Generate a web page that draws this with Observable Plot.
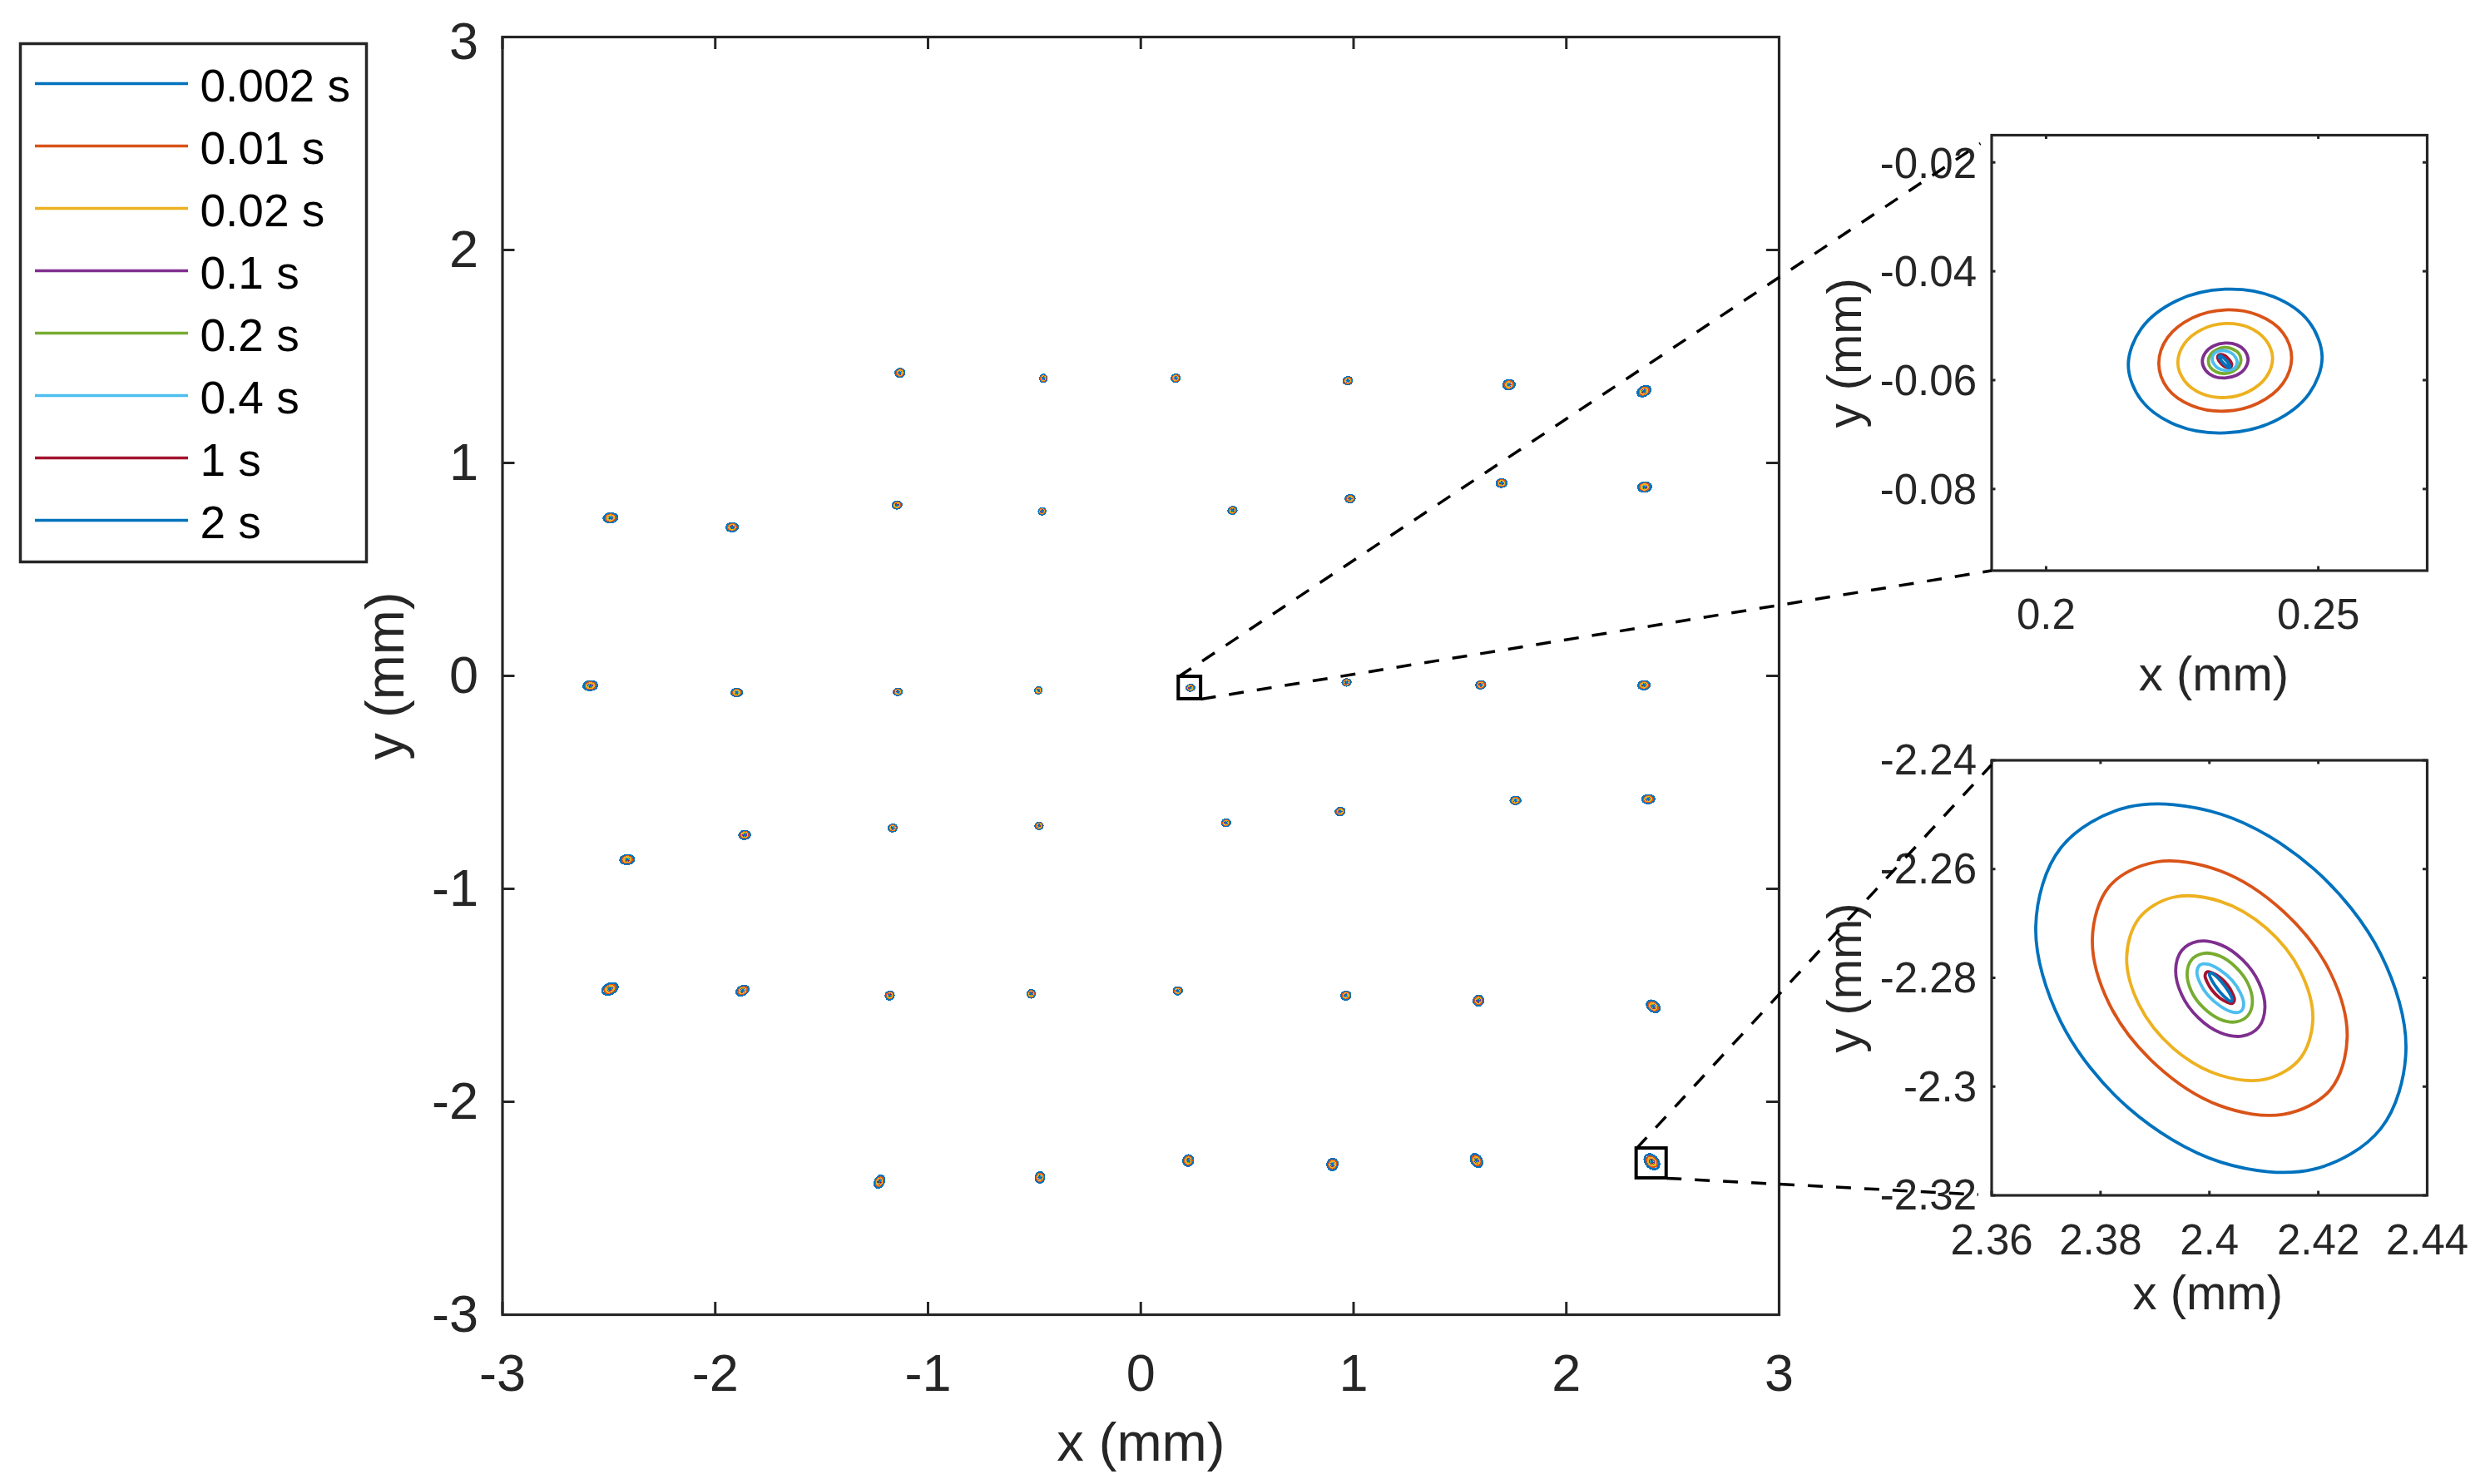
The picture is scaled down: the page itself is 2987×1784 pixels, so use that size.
<!DOCTYPE html>
<html>
<head>
<meta charset="utf-8">
<script src="https://cdn.jsdelivr.net/npm/d3@7"></script>
<script src="https://cdn.jsdelivr.net/npm/@observablehq/plot@0.6"></script>
<style>
html,body{margin:0;padding:0;background:#fff}
#page{position:relative;width:2987px;height:1784px;overflow:hidden;background:#fff}
#page svg{position:absolute;left:0;top:0}
</style>
</head>
<body>
<div id="page"></div>
<script>
const seriesLabels = ["0.002 s","0.01 s","0.02 s","0.1 s","0.2 s","0.4 s","1 s","2 s"];
const seriesColors = ["#0072BD","#D95319","#EDB120","#7E2F8E","#77AC30","#4DBEEE","#A2142F","#0072BD"];

const mainXTicks = [-3,-2,-1,0,1,2,3];
const mainYTicks = [-3,-2,-1,0,1,2];
const mainYTopTick = [3];
const insetAXTicks = [0.2,0.25];
const insetAYTicks = [-0.02,-0.04,-0.06,-0.08];
const insetBXTicks = [2.36,2.38,2.4,2.42,2.44];
const insetBYTicks = [-2.24,-2.26,-2.28,-2.3,-2.32];

const spotX = [-1.132,-0.458,0.164,0.973,1.730,2.365,
  -2.492,-1.921,-1.146,-0.464,0.431,0.984,1.696,2.368,
  -2.587,-1.899,-1.142,-0.481,0.233,0.967,1.598,2.365,
  -2.414,-1.862,-1.166,-0.478,0.401,0.937,1.761,2.385,
  -2.495,-1.872,-1.180,-0.515,0.174,0.964,1.587,2.409,
  -1.228,-0.474,0.223,0.901,1.578,2.402];
const spotY = [1.423,1.397,1.398,1.386,1.367,1.337,
  0.742,0.698,0.802,0.773,0.777,0.832,0.905,0.887,
  -0.046,-0.078,-0.075,-0.068,-0.056,-0.031,-0.042,-0.044,
  -0.863,-0.747,-0.714,-0.704,-0.690,-0.637,-0.585,-0.579,
  -1.470,-1.478,-1.501,-1.493,-1.479,-1.501,-1.525,-1.552,
  -2.375,-2.355,-2.276,-2.294,-2.276,-2.2815];
// outer contour extents of each spot (mm)
const spotW = [.041,.029,.037,.039,.053,.060,
  .064,.053,.041,.029,.037,.041,.047,.060,
  .064,.049,.037,.029,.0355,.037,.041,.053,
  .064,.049,.037,.033,.037,.041,.045,.056,
  .072,.056,.037,.033,.037,.041,.045,.060,
  .045,.039,.045,.047,.053,.068];
const spotH = [.037,.033,.033,.033,.043,.047,
  .041,.037,.031,.029,.031,.033,.035,.043,
  .041,.033,.029,.029,.0264,.029,.033,.037,
  .041,.037,.031,.029,.031,.033,.033,.037,
  .053,.045,.037,.035,.033,.037,.045,.053,
  .056,.049,.049,.053,.060,.068];

// contours of the upper inset (x, y in mm)
const a0 = [[.2507,-.0558],[.2483,-.0493],[.2418,-.0447],[.2329,-.0433],[.2240,-.0454],[.2175,-.0505],[.2151,-.0572],[.2175,-.0637],[.2240,-.0683],[.2329,-.0697],[.2418,-.0676],[.2483,-.0625]];
const a1 = [[.2451,-.0559],[.2435,-.0513],[.2390,-.0481],[.2329,-.0471],[.2268,-.0486],[.2223,-.0522],[.2207,-.0569],[.2223,-.0615],[.2268,-.0647],[.2329,-.0657],[.2390,-.0642],[.2435,-.0606]];
const a2 = [[.2416,-.0560],[.2404,-.0527],[.2372,-.0503],[.2329,-.0496],[.2286,-.0507],[.2254,-.0533],[.2242,-.0568],[.2254,-.0601],[.2286,-.0625],[.2329,-.0632],[.2372,-.0621],[.2404,-.0595]];
const a3 = [[.2371,-.0562],[.2365,-.0546],[.2350,-.0535],[.2329,-.0532],[.2308,-.0537],[.2293,-.0549],[.2287,-.0566],[.2293,-.0582],[.2308,-.0593],[.2329,-.0596],[.2350,-.0591],[.2365,-.0579]];
const a4 = [[.2358,-.0563],[.2354,-.0551],[.2343,-.0543],[.2328,-.0540],[.2313,-.0544],[.2302,-.0553],[.2298,-.0565],[.2302,-.0577],[.2313,-.0585],[.2328,-.0588],[.2343,-.0584],[.2354,-.0575]];
const a5 = [[.2351,-.0567],[.2348,-.0558],[.2340,-.0550],[.2328,-.0546],[.2316,-.0547],[.2308,-.0552],[.2305,-.0561],[.2308,-.0570],[.2316,-.0578],[.2328,-.0582],[.2340,-.0581],[.2348,-.0576]];
const a6 = [[.2341,-.0572],[.2339,-.0566],[.2334,-.0560],[.2328,-.0555],[.2322,-.0553],[.2317,-.0554],[.2315,-.0558],[.2317,-.0564],[.2322,-.0570],[.2328,-.0575],[.2334,-.0577],[.2339,-.0576]];
const a7 = [[.2338,-.0575],[.2336,-.0571],[.2333,-.0566],[.2328,-.0561],[.2323,-.0557],[.2320,-.0555],[.2318,-.0557],[.2320,-.0561],[.2323,-.0566],[.2328,-.0571],[.2333,-.0575],[.2336,-.0577]];

// contours of the lower inset (x, y in mm)
const b0 = [[2.4361,-2.2932],[2.4315,-2.2757],[2.4191,-2.2599],[2.4021,-2.2499],[2.3851,-2.2486],[2.3727,-2.2561],[2.3681,-2.2706],[2.3727,-2.2881],[2.3851,-2.3039],[2.4021,-2.3139],[2.4191,-2.3152],[2.4315,-2.3077]];
const b1 = [[2.4253,-2.2910],[2.4222,-2.2790],[2.4136,-2.2678],[2.4019,-2.2603],[2.3902,-2.2587],[2.3816,-2.2632],[2.3785,-2.2728],[2.3816,-2.2848],[2.3902,-2.2960],[2.4019,-2.3035],[2.4136,-2.3051],[2.4222,-2.3006]];
const b2 = [[2.4190,-2.2876],[2.4167,-2.2788],[2.4105,-2.2709],[2.4019,-2.2659],[2.3933,-2.2652],[2.3871,-2.2690],[2.3848,-2.2762],[2.3871,-2.2850],[2.3933,-2.2929],[2.4019,-2.2979],[2.4105,-2.2986],[2.4167,-2.2948]];
const b3 = [[2.4102,-2.2854],[2.4091,-2.2809],[2.4061,-2.2767],[2.4020,-2.2739],[2.3979,-2.2733],[2.3949,-2.2750],[2.3938,-2.2786],[2.3949,-2.2831],[2.3979,-2.2873],[2.4020,-2.2901],[2.4061,-2.2907],[2.4091,-2.2890]];
const b4 = [[2.4079,-2.2844],[2.4071,-2.2811],[2.4049,-2.2781],[2.4019,-2.2760],[2.3989,-2.2755],[2.3967,-2.2767],[2.3959,-2.2792],[2.3967,-2.2825],[2.3989,-2.2855],[2.4019,-2.2876],[2.4049,-2.2881],[2.4071,-2.2869]];
const b5 = [[2.4063,-2.2849],[2.4057,-2.2828],[2.4042,-2.2805],[2.4020,-2.2786],[2.3998,-2.2775],[2.3983,-2.2776],[2.3977,-2.2789],[2.3983,-2.2810],[2.3998,-2.2833],[2.4020,-2.2852],[2.4042,-2.2863],[2.4057,-2.2862]];
const b6 = [[2.4046,-2.2840],[2.4042,-2.2828],[2.4033,-2.2813],[2.4019,-2.2799],[2.4005,-2.2791],[2.3996,-2.2789],[2.3992,-2.2796],[2.3996,-2.2808],[2.4005,-2.2823],[2.4019,-2.2837],[2.4033,-2.2845],[2.4042,-2.2847]];
const b7 = [[2.4042,-2.2841],[2.4039,-2.2832],[2.4031,-2.2819],[2.4021,-2.2806],[2.4011,-2.2796],[2.4003,-2.2791],[2.4000,-2.2793],[2.4003,-2.2802],[2.4011,-2.2815],[2.4021,-2.2828],[2.4031,-2.2838],[2.4039,-2.2843]];

// zoom boxes and connectors, in main-axes mm
const boxA = {x1:.178, x2:.283, y1:-.109, y2:-.004};
const boxB = {x1:2.330, x2:2.471, y1:-2.359, y2:-2.219};
const connectors = [
  [[.178,-.004],[3.946,2.5]],
  [[.283,-.109],[3.998,.494]],
  [[2.330,-2.219],[3.998,-.418]],
  [[2.471,-2.359],[3.936,-2.436]]
];

const W = 2987, H = 1784;
const INK = "#262626", FONT = "Liberation Sans";
const curve = "catmull-rom-closed";
const contoursA = [a0,a1,a2,a3,a4,a5,a6,a7];
const contoursB = [b0,b1,b2,b3,b4,b5,b6,b7];

function rows(contours){
  return contours.flatMap((c,s)=>c.map(([x,y])=>({x,y,series:seriesLabels[s],id:s})));
}
function extent(c){
  const xs=c.map(p=>p[0]), ys=c.map(p=>p[1]);
  return {cx:(d3.min(xs)+d3.max(xs))/2, cy:(d3.min(ys)+d3.max(ys))/2, w:d3.max(xs)-d3.min(xs), h:d3.max(ys)-d3.min(ys)};
}
// each small spot in the main axes is the inset contour set resized to the spot's read extents
function spotRows(){
  const out=[];
  spotX.forEach((sx,i)=>{
    const sy=spotY[i], tilted=Math.abs(sx*sy)>=2.5;
    const tpl=tilted?contoursB:contoursA, e=extent(tpl[0]);
    const flip=(tilted&&sx*sy>0)?-1:1;
    tpl.forEach((c,s)=>c.forEach(([x,y])=>out.push({
      x:sx+flip*(x-e.cx)*spotW[i]/e.w,
      y:sy+(y-e.cy)*spotH[i]/e.h,
      series:seriesLabels[s], id:i+"-"+s
    })));
  });
  return out;
}

function axes(o){
  const lenX=o.tick*(o.x[1]-o.x[0]), lenY=o.tick*(o.y[1]-o.y[0]);
  const tk={stroke:INK,strokeWidth:o.tickW};
  const tickText={tickSize:0,fontFamily:FONT,fill:INK,tickFormat:d=>String(d),label:null,fontSize:o.font};
  const allY=[...o.yt,...(o.ytTop||[])];
  return [
    Plot.ruleX(o.xt,{x:d=>d,y1:o.y[0],y2:o.y[0]+lenY,...tk}),
    Plot.ruleX(o.xt,{x:d=>d,y1:o.y[1],y2:o.y[1]-lenY,...tk}),
    Plot.ruleY(allY,{y:d=>d,x1:o.x[0],x2:o.x[0]+lenX,...tk}),
    Plot.ruleY(allY,{y:d=>d,x1:o.x[1],x2:o.x[1]-lenX,...tk}),
    Plot.axisX({anchor:"bottom",ticks:o.xt,tickPadding:o.padX,...tickText}),
    Plot.axisY({anchor:"left",ticks:o.yt,tickPadding:o.padY,dy:o.tickDy||0,...tickText}),
    ...(o.ytTop?[Plot.axisY({anchor:"left",ticks:o.ytTop,tickPadding:o.padY,dy:6,...tickText})]:[]),
    Plot.text(["x (mm)"],{x:o.lx[0],y:o.y[0],dy:o.lx[1],text:d=>d,fontSize:o.labelFont,fontFamily:FONT,fill:INK,lineAnchor:"middle"}),
    Plot.text(["y (mm)"],{x:o.x[0],y:o.ly[0],dx:o.ly[1],text:d=>d,rotate:-90,fontSize:o.labelFont,fontFamily:FONT,fill:INK,lineAnchor:"middle"}),
    Plot.frame({stroke:INK,strokeWidth:o.frameW})
  ];
}

function panel(rect,x,y,marks){
  return Plot.plot({
    width:W,height:H,
    marginLeft:rect.l,marginRight:W-rect.r,marginTop:rect.t,marginBottom:H-rect.b,
    x:{domain:x},y:{domain:y},
    color:{domain:seriesLabels,range:seriesColors},
    style:{background:"transparent",overflow:"visible"},
    marks
  });
}

const contourMarks=(data,sw,extra={})=>[Plot.line(data,{x:"x",y:"y",z:"id",stroke:"series",strokeWidth:sw,curve,...extra})];

// upper inset
const insetA = panel({l:2393.5,r:2917,t:162,b:685.5},[0.19,0.27],[-0.095,-0.015],[
  ...contourMarks(rows(contoursA),3.8),
  ...axes({x:[0.19,0.27],y:[-0.095,-0.015],xt:insetAXTicks,yt:insetAYTicks,tick:0.0095,tickW:3,padX:34,padY:18,tickDy:2,font:51,labelFont:58,
    lx:[0.2308,125],ly:[-0.055,-176],frameW:3.2})
]);
// lower inset
const insetB = panel({l:2393.5,r:2917,t:913.5,b:1436.5},[2.36,2.44],[-2.32,-2.24],[
  ...contourMarks(rows(contoursB),3.8),
  ...axes({x:[2.36,2.44],y:[-2.32,-2.24],xt:insetBXTicks,yt:insetBYTicks,tick:0.0095,tickW:3,padX:35,padY:18,tickDy:1,font:51,labelFont:58,
    lx:[2.3997,118],ly:[-2.28,-176],frameW:3.2})
]);
// main axes, on top so that the dashed connectors cross the inset labels
const mainPlot = panel({l:603.5,r:2138,t:44,b:1580},[-3,3],[-3,3],[
  ...contourMarks(spotRows(),2.8,{shapeRendering:"crispEdges"}),
  ...axes({x:[-3,3],y:[-3,3],xt:mainXTicks,yt:mainYTicks,ytTop:mainYTopTick,tick:15/1536,tickW:3,padX:47,padY:29,font:63,labelFont:65,
    lx:[0,155],ly:[0,-140],frameW:3.2}),
  Plot.rect([boxA,boxB],{x1:"x1",x2:"x2",y1:"y1",y2:"y2",stroke:"black",strokeWidth:4,fill:"none"}),
  ...connectors.map(c=>Plot.line(c,{x:d=>d[0],y:d=>d[1],stroke:"black",strokeWidth:3.5,strokeDasharray:"18 16",strokeLinecap:"butt"}))
]);
// legend
const legend = Plot.plot({
  width:W,height:H,
  marginLeft:24,marginRight:W-440,marginTop:52,marginBottom:H-675,
  x:{domain:[0,1],range:[42,226],axis:null},
  y:{type:"point",domain:seriesLabels,range:[97.3,628.5],padding:0,axis:null},
  color:{domain:seriesLabels,range:seriesColors},
  style:{background:"transparent"},
  marks:[
    Plot.ruleY(seriesLabels,{y:d=>d,x1:0,x2:1,stroke:d=>d,strokeWidth:3.4}),
    Plot.text(seriesLabels,{x:1,y:d=>d,dx:14,dy:4,text:d=>d,textAnchor:"start",lineAnchor:"middle",fontSize:55,fontFamily:FONT,fill:"#000"}),
    Plot.frame({stroke:INK,strokeWidth:3.5})
  ]
});

const page=document.getElementById("page");
[legend,insetA,insetB,mainPlot].forEach(s=>page.appendChild(s));
</script>
</body>
</html>
